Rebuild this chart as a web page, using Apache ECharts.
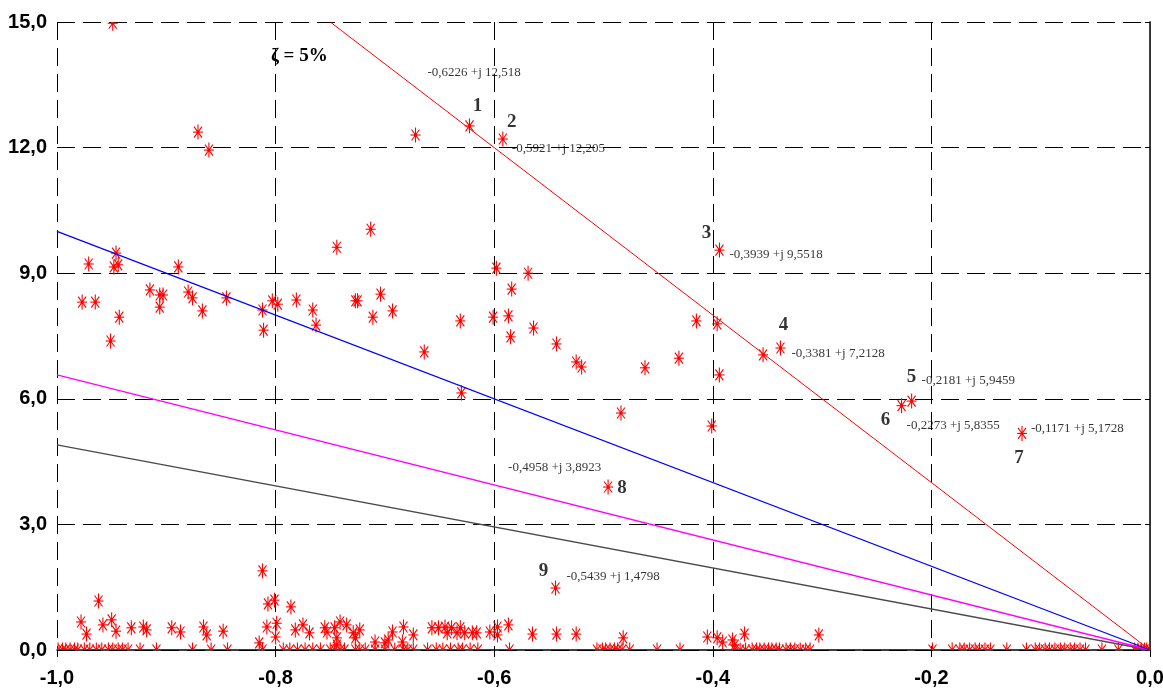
<!DOCTYPE html>
<html><head><meta charset="utf-8">
<script src="https://cdn.jsdelivr.net/npm/echarts@6/dist/echarts.min.js"></script>
<style>html,body{margin:0;padding:0;background:#fff}#c{width:1163px;height:693px}</style>
</head><body><div id="c"></div>
<script>
// ---- data ----
const xRange = [-1, 0];
const yRange = [0, 15];
const xStep = 0.2;
const yStep = 3;

// damping lines: [x, y] end points
const redLine = [[-0.75, 15], [0, 0]];
const blueLine = [[-1, 10], [0, 0]];
const magentaLine = [[-1, 6.57], [0, 0]];
const blackLine = [[-1, 4.9], [0, 0]];

// labelled poles
const labeledPoles = [[-0.6226, 12.518], [-0.5921, 12.205], [-0.3939, 9.5518], [-0.3381, 7.2128],
  [-0.2181, 5.9459], [-0.2273, 5.8355], [-0.1171, 5.1728], [-0.4958, 3.8923], [-0.5439, 1.4798]];
const poleNumbers = ['1', '2', '3', '4', '5', '6', '7', '8', '9'];
const poleTexts = ['-0,6226 +j 12,518', '-0,5921 +j 12,205', '-0,3939 +j 9,5518', '-0,3381 +j 7,2128',
  '-0,2181 +j 5,9459', '-0,2273 +j 5,8355', '-0,1171 +j 5,1728', '-0,4958 +j 3,8923', '-0,5439 +j 1,4798'];
const zetaText = 'ζ = 5%';

// other poles (upper half-plane)
const upperPoles = [[-0.949, 14.97], [-0.871, 12.37], [-0.861, 11.94], [-0.672, 12.30], [-0.713, 10.05], [-0.744, 9.62],
  [-0.946, 9.48], [-0.948, 9.15], [-0.944, 9.20], [-0.971, 9.22], [-0.977, 8.31], [-0.965, 8.31], [-0.943, 7.95],
  [-0.951, 7.38], [-0.915, 8.60], [-0.906, 8.48], [-0.906, 8.19], [-0.903, 8.48], [-0.889, 9.15], [-0.880, 8.55],
  [-0.876, 8.41], [-0.867, 8.10], [-0.845, 8.41], [-0.812, 8.12], [-0.811, 7.64], [-0.803, 8.34], [-0.798, 8.26],
  [-0.781, 8.36], [-0.766, 8.12], [-0.763, 7.76], [-0.727, 8.34], [-0.725, 8.34], [-0.711, 7.95], [-0.704, 8.50],
  [-0.693, 8.10], [-0.664, 7.12], [-0.631, 7.86], [-0.630, 6.14], [-0.601, 7.95], [-0.598, 9.12], [-0.587, 7.98],
  [-0.585, 7.48], [-0.584, 8.62], [-0.569, 9.00], [-0.564, 7.69], [-0.543, 7.31], [-0.525, 6.88], [-0.520, 6.76],
  [-0.484, 5.66], [-0.462, 6.74], [-0.431, 6.97], [-0.415, 7.86], [-0.401, 5.35], [-0.396, 7.79], [-0.394, 6.57],
  [-0.354, 7.05]];

// poles close to the real axis
const lowPoles = [[-0.978, 0.67], [-0.973, 0.38], [-0.962, 1.17], [-0.958, 0.60], [-0.950, 0.72], [-0.946, 0.45],
  [-0.932, 0.53], [-0.921, 0.55], [-0.918, 0.48], [-0.895, 0.53], [-0.887, 0.43], [-0.866, 0.55], [-0.863, 0.36],
  [-0.848, 0.45], [-0.815, 0.17], [-0.812, 1.89], [-0.807, 1.10], [-0.801, 1.19], [-0.808, 0.55], [-0.799, 0.64],
  [-0.800, 0.31], [-0.786, 1.03], [-0.782, 0.48], [-0.775, 0.60], [-0.769, 0.41], [-0.755, 0.53],
  [-0.753, 0.43], [-0.746, 0.53], [-0.741, 0.67], [-0.735, 0.60], [-0.744, 0.29], [-0.744, 0.12], [-0.729, 0.41],
  [-0.727, 0.29], [-0.723, 0.48], [-0.709, 0.19], [-0.700, 0.17], [-0.697, 0.24], [-0.693, 0.43], [-0.683, 0.55],
  [-0.684, 0.19], [-0.674, 0.36], [-0.657, 0.53], [-0.651, 0.53], [-0.645, 0.55], [-0.643, 0.41], [-0.639, 0.53],
  [-0.634, 0.41], [-0.631, 0.53], [-0.627, 0.41], [-0.620, 0.41], [-0.616, 0.41], [-0.604, 0.43], [-0.597, 0.55],
  [-0.597, 0.36], [-0.587, 0.60], [-0.565, 0.38], [-0.543, 0.38], [-0.525, 0.38],
  [-0.482, 0.29], [-0.405, 0.31], [-0.396, 0.29], [-0.391, 0.19], [-0.382, 0.24], [-0.371, 0.38], [-0.380, 0.12],
  [-0.303, 0.36]];

// real poles (on the axis)
const realPoles = [-0.999, -0.995, -0.992, -0.988, -0.984, -0.981, -0.975, -0.970, -0.964, -0.959, -0.953, -0.949,
  -0.944, -0.940, -0.935, -0.924, -0.909, -0.876, -0.859, -0.844, -0.812, -0.793, -0.787, -0.780, -0.773, -0.766,
  -0.759, -0.750, -0.746, -0.741, -0.737, -0.727, -0.723, -0.718, -0.709, -0.700, -0.691, -0.683, -0.679, -0.674,
  -0.661, -0.653, -0.647, -0.640, -0.633, -0.629, -0.622, -0.615, -0.586, -0.506, -0.501, -0.498, -0.494, -0.490,
  -0.487, -0.483, -0.476, -0.451, -0.430, -0.380, -0.375, -0.370, -0.364, -0.360, -0.357, -0.353, -0.349, -0.346,
  -0.342, -0.339, -0.333, -0.329, -0.325, -0.320, -0.315, -0.311, -0.199, -0.181, -0.174, -0.170, -0.165, -0.160,
  -0.156, -0.151, -0.146, -0.131, -0.113, -0.105, -0.101, -0.096, -0.092, -0.087, -0.082, -0.078, -0.073, -0.069,
  -0.064, -0.059, -0.044, -0.029, -0.014, -0.011, -0.008, -0.005, -0.003, 0];

// ---- styling ----
const numOffsets = [[8, -20], [9, -17], [-13, -17], [3, -23], [0, -24], [-16, 14], [-3, 25], [14, 1], [-12, -17]];
const textOffsets = [[-42, -53], [9, 10], [10, 4], [11, 6], [10, -20], [5, 20], [9, -5], [-100, -19], [11, -11]];
const axisFont = "'Liberation Sans', Arial, sans-serif";
const serifFont = "'Liberation Serif', 'Times New Roman', serif";
const RED = '#ff0000';

function fmt(v) { return (Math.abs(v) < 1e-9 ? 0 : v).toFixed(1).replace('.', ','); }

function starItem(params, api) {
  const p = api.coord([api.value(0), api.value(1)]);
  const st = { stroke: RED, lineWidth: 1.1 };
  const arms = [[0, -7.5, 0, 7.5], [-5, 0, 5, 0], [-4, -5.5, 4, 5.5], [-4, 5.5, 4, -5.5]];
  const children = arms.map(a => ({ type: 'line', shape: { x1: a[0], y1: a[1], x2: a[2], y2: a[3] }, style: st }));
  children.push({ type: 'circle', shape: { cx: 0, cy: 0, r: 1.6 }, style: { fill: RED } });
  return { type: 'group', x: p[0], y: p[1], children: children };
}

const allStars = upperPoles.concat(lowPoles, labeledPoles, realPoles.map(x => [x, 0]));

const chart = echarts.init(document.getElementById('c'), null, { renderer: 'canvas' });
chart.setOption({
  animation: false,
  backgroundColor: '#fff',
  title: {
    text: zetaText, left: 271, top: 47, padding: 0,
    textStyle: { fontFamily: serifFont, fontWeight: 'bold', fontSize: 19, color: '#000' }
  },
  grid: { left: 57, right: 13, top: 22, bottom: 43, containLabel: false, outerBoundsMode: 'none' },
  xAxis: {
    type: 'value', min: xRange[0], max: xRange[1], interval: xStep,
    axisLine: { show: true, onZero: false, lineStyle: { color: '#000', width: 1.5 } },
    axisTick: { show: true, length: 7, lineStyle: { color: '#000' } },
    splitLine: { show: true, lineStyle: { color: '#000', width: 1, type: [18, 8] } },
    axisLabel: { formatter: fmt, fontFamily: axisFont, fontWeight: 'bold', fontSize: 20, color: '#000', margin: 18, hideOverlap: false }
  },
  yAxis: [{
    type: 'value', min: yRange[0], max: yRange[1], interval: yStep,
    axisLine: { show: true, lineStyle: { color: '#000', width: 1.5 } },
    axisTick: { show: true, length: 5, lineStyle: { color: '#000' } },
    splitLine: { show: true, lineStyle: { color: '#000', width: 1, type: [18, 8] } },
    axisLabel: { formatter: fmt, fontFamily: axisFont, fontWeight: 'bold', fontSize: 20, color: '#000', margin: 10 }
  }, {
    type: 'value', position: 'right', min: yRange[0], max: yRange[1], interval: yStep,
    axisLine: { show: true, lineStyle: { color: '#333', width: 1 } },
    axisTick: { show: false }, axisLabel: { show: false }, splitLine: { show: false }
  }],
  series: [
    { type: 'line', data: blackLine, symbol: 'none', silent: true, lineStyle: { color: '#4a4a4a', width: 1.3 } },
    { type: 'line', data: magentaLine, symbol: 'none', silent: true, lineStyle: { color: '#ff00ff', width: 1.3 } },
    { type: 'line', data: blueLine, symbol: 'none', silent: true, lineStyle: { color: '#0000ff', width: 1.3 } },
    { type: 'line', data: redLine, symbol: 'none', silent: true, lineStyle: { color: RED, width: 1 } },
    { type: 'custom', renderItem: starItem, data: allStars, clip: true, encode: { x: 0, y: 1 }, silent: true, z: 3 },
    {
      type: 'scatter', symbolSize: 0.01, silent: true, z: 4,
      data: labeledPoles.map((p, i) => ({ value: p, label: { offset: numOffsets[i] } })),
      label: {
        show: true, position: 'inside', align: 'center', verticalAlign: 'middle',
        formatter: p => poleNumbers[p.dataIndex],
        fontFamily: serifFont, fontWeight: 'bold', fontSize: 19, color: '#000'
      }
    },
    {
      type: 'scatter', symbolSize: 0.01, silent: true, z: 4,
      data: labeledPoles.map((p, i) => ({ value: p, label: { offset: textOffsets[i] } })),
      label: {
        show: true, position: 'inside', align: 'left', verticalAlign: 'middle',
        formatter: p => poleTexts[p.dataIndex],
        fontFamily: serifFont, fontSize: 13, color: '#000'
      }
    }
  ]
});
</script>
</body></html>
